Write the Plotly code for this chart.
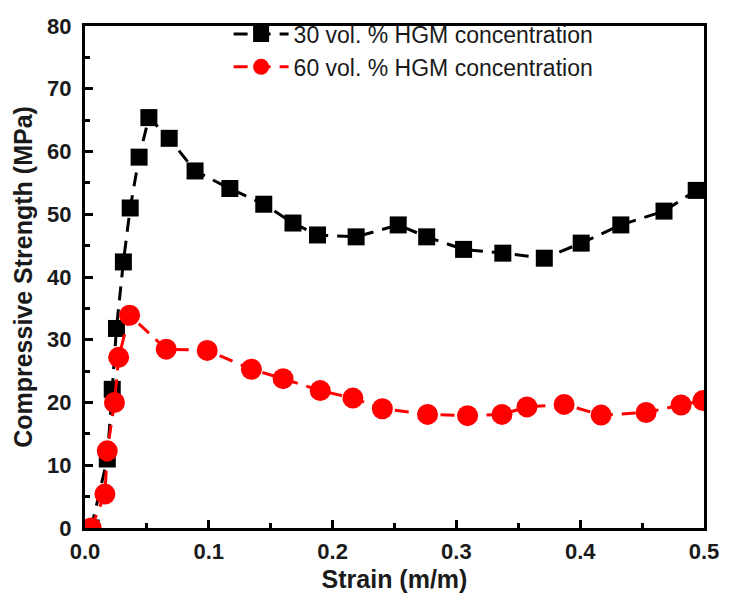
import plotly.graph_objects as go

# Compressive stress-strain data for syntactic foams
strain_30 = [0.005, 0.018, 0.022, 0.0254, 0.031, 0.0365, 0.0437, 0.0516, 0.068,
             0.0889, 0.117, 0.1444, 0.168, 0.1878, 0.219, 0.253, 0.276, 0.3058,
             0.3375, 0.371, 0.4008, 0.4328, 0.4677, 0.4937]
stress_30 = [0.0, 11.0, 22.1, 31.8, 42.4, 51.0, 59.1, 65.4, 62.1,
             56.9, 54.1, 51.6, 48.6, 46.7, 46.4, 48.3, 46.4, 44.4,
             43.8, 43.0, 45.4, 48.3, 50.5, 53.8]

strain_60 = [0.005, 0.0161, 0.018, 0.0238, 0.0272, 0.036, 0.0656, 0.0987, 0.1344,
             0.16, 0.19, 0.2164, 0.2402, 0.2767, 0.309, 0.3368, 0.357, 0.387,
             0.4169, 0.4532, 0.4815, 0.4992]
stress_60 = [0.0, 5.4, 12.3, 20.0, 27.2, 33.9, 28.5, 28.3, 25.3,
             23.8, 21.9, 20.7, 19.0, 18.1, 17.9, 18.1, 19.3, 19.7,
             18.0, 18.4, 19.6, 20.3]

name_30 = "30 vol. % HGM concentration"
name_60 = "60 vol. % HGM concentration"

x_ticks = [0.0, 0.1, 0.2, 0.3, 0.4, 0.5]
x_ticklabels = ["0.0", "0.1", "0.2", "0.3", "0.4", "0.5"]
y_ticks = [0, 10, 20, 30, 40, 50, 60, 70, 80]

FONT = "Liberation Sans, Arial, sans-serif"
TEXT = "#1a1a1a"

fig = go.Figure()
fig.add_trace(go.Scatter(
    x=strain_30, y=stress_30, name=name_30, mode="lines+markers",
    line=dict(color="black", width=3, dash="14px,9px"),
    marker=dict(symbol="square", size=17, color="black"),
))
fig.add_trace(go.Scatter(
    x=strain_60, y=stress_60, name=name_60, mode="lines+markers",
    line=dict(color="#ff0000", width=3, dash="14px,9px"),
    marker=dict(symbol="circle", size=21, color="#ff0000"),
))

axis_common = dict(
    showgrid=False, zeroline=False,
    showline=True, linecolor="black", linewidth=3, mirror=True,
    ticks="inside", ticklen=8, tickwidth=3, tickcolor="black",
    tickfont=dict(family=FONT, size=22, color=TEXT, weight="bold"),
)

fig.update_xaxes(
    range=[0, 0.5], tickvals=x_ticks, ticktext=x_ticklabels,
    minor=dict(ticks="inside", ticklen=5, tickwidth=3, dtick=0.05, tickcolor="black"),
    ticklabelstandoff=2,
    title=dict(text="Strain (m/m)", standoff=8,
               font=dict(family=FONT, size=25, color=TEXT, weight="bold")),
    **axis_common,
)
fig.update_yaxes(
    range=[0, 80], tickvals=y_ticks,
    minor=dict(ticks="inside", ticklen=5, tickwidth=3, dtick=5, tickcolor="black"),
    ticklabelstandoff=6,
    title=dict(text="Compressive Strength (MPa)", standoff=8,
               font=dict(family=FONT, size=25, color=TEXT, weight="bold")),
    **axis_common,
)

fig.update_layout(
    width=731, height=605,
    margin=dict(l=85, r=17, t=18, b=77),
    paper_bgcolor="white", plot_bgcolor="white",
    showlegend=True,
    legend=dict(
        x=0.232, y=1.027, xanchor="left", yanchor="top",
        bgcolor="rgba(0,0,0,0)", borderwidth=0,
        font=dict(family=FONT, size=23, color=TEXT),
        itemwidth=55, tracegroupgap=0,
    ),
)

fig.write_html("out.html")
